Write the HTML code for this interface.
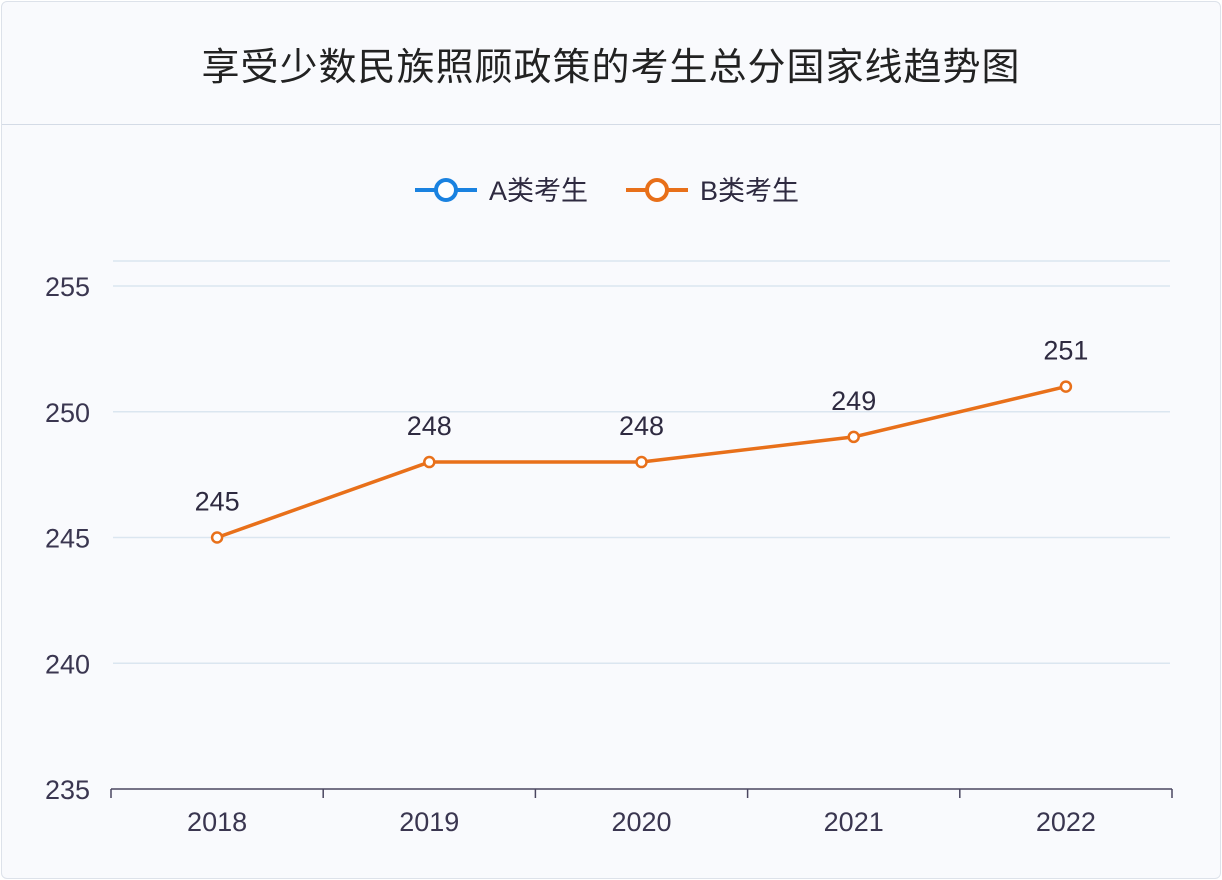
<!DOCTYPE html>
<html><head><meta charset="utf-8">
<style>
html,body{margin:0;padding:0;background:#fff;}
body{width:1222px;height:880px;overflow:hidden;font-family:"Liberation Sans","Noto Sans CJK SC",sans-serif;}
#card{position:absolute;left:1px;top:1px;width:1218px;height:876px;border:1px solid #dde2ea;border-radius:6px;background:#f9fafd;}
#title{position:absolute;left:0;top:0;width:1218px;height:122px;border-bottom:1px solid #d4dbe6;text-align:center;line-height:132px;font-size:38px;color:#222;letter-spacing:1px;}
svg{position:absolute;left:0;top:0;}
</style></head><body>
<div id="card">
<div id="title">享受少数民族照顾政策的考生总分国家线趋势图</div>
</div>
<svg id="chart" width="1222" height="880"></svg>
<script>
const categories = ["2018","2019","2020","2021","2022"];
const seriesB = [245,248,248,249,251];
const yTicks = [235,240,245,250,255];
const svg = document.getElementById('chart');
const NS='http://www.w3.org/2000/svg';
function el(t,a,p){const e=document.createElementNS(NS,t);for(const k in a)e.setAttribute(k,a[k]);(p||svg).appendChild(e);return e;}
const x0=111,x1=1172,band=(x1-x0)/categories.length;
const xPos=i=>x0+band*(i+0.5);
const yPos=v=>789-(v-235)*25.15;
let g=el('line',{x1:113,x2:1170,y1:261,y2:261,stroke:'#dbe6f0','stroke-width':1.5});


yTicks.forEach(v=>{
  if(v>235){const l=el('line',{x1:113,x2:1170,y1:yPos(v),y2:yPos(v),stroke:'#dbe6f0','stroke-width':1.5});
  
  }
  const t=el('text',{x:90,y:yPos(v)+10,'text-anchor':'end','font-size':27,fill:'#3a3650'});t.textContent=v;
  
  
});
const ax=el('line',{x1:x0,x2:x1,y1:789,y2:789,stroke:'#4a4660','stroke-width':1.5});


for(let i=0;i<=categories.length;i++){const tk=el('line',{x1:x0+band*i,x2:x0+band*i,y1:789,y2:798,stroke:'#4a4660','stroke-width':1.5});

}
categories.forEach((c,i)=>{const t=el('text',{x:xPos(i),y:831,'text-anchor':'middle','font-size':27,fill:'#3a3650'});t.textContent=c;

});
const pl=el('polyline',{points:seriesB.map((v,i)=>xPos(i)+','+yPos(v)).join(' '),fill:'none',stroke:'#e8701a','stroke-width':3.5,'stroke-linejoin':'round'});


seriesB.forEach((v,i)=>{
  const c=el('circle',{cx:xPos(i),cy:yPos(v),r:5,fill:'#fff',stroke:'#e8701a','stroke-width':2.5});
  
  
  const t=el('text',{x:xPos(i),y:yPos(v)-27,'text-anchor':'middle','font-size':27,fill:'#2e2a40'});t.textContent=v;
  
  
});
[['A类考生','#1a82e0',415],['B类考生','#e8701a',626]].forEach(([n,col,lx],k)=>{
  const gg=el('g',{});
  
  
  el('line',{x1:lx,x2:lx+62,y1:190,y2:190,stroke:col,'stroke-width':4},gg);
  el('circle',{cx:lx+31,cy:190,r:10,fill:'#fff',stroke:col,'stroke-width':4},gg);
  const t=el('text',{x:lx+74,y:200,'font-size':27,fill:'#2e2a40'},gg);t.textContent=n;
});
</script>
</body></html>
